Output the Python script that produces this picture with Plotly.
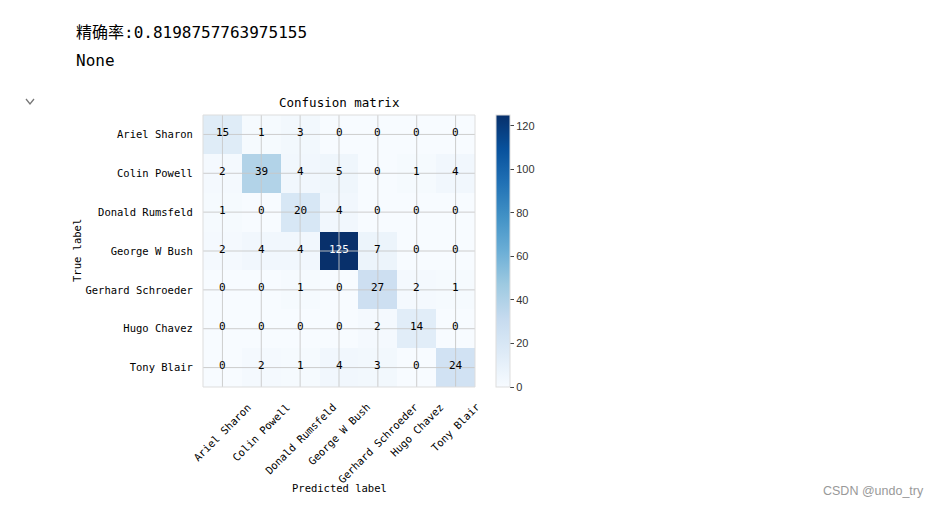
import plotly.graph_objects as go
import plotly.express as px

classes = ["Ariel Sharon", "Colin Powell", "Donald Rumsfeld", "George W Bush",
           "Gerhard Schroeder", "Hugo Chavez", "Tony Blair"]
cm = [
    [15, 1, 3, 0, 0, 0, 0],
    [2, 39, 4, 5, 0, 1, 4],
    [1, 0, 20, 4, 0, 0, 0],
    [2, 4, 4, 125, 7, 0, 0],
    [0, 0, 1, 0, 27, 2, 1],
    [0, 0, 0, 0, 2, 14, 0],
    [0, 2, 1, 4, 3, 0, 24],
]
colorbar_ticks = [0, 20, 40, 60, 80, 100, 120]
accuracy_text = "精确率:0.8198757763975155"

W, H = 941, 507
L, R, T, B = 203, 475, 115, 387
pw, ph = R - L, B - T

def px2x(p):
    return (p - L) / pw

def px2y(p):
    return (B - p) / ph

MONO = "DejaVu Sans Mono, Noto Sans CJK SC"
n = len(classes)
zmax = max(max(r) for r in cm)

fig = go.Figure(go.Heatmap(
    z=cm, x=list(range(n)), y=list(range(n)),
    colorscale=px.colors.sequential.Blues, zmin=0, zmax=zmax,
    colorbar=dict(x=px2x(496), xanchor="left", xpad=0, ypad=0, thickness=14,
                  len=1, lenmode="fraction", y=0.5, yanchor="middle",
                  outlinecolor="#dddddd", outlinewidth=1,
                  tickvals=colorbar_ticks, ticks="outside", ticklen=4, tickcolor="#444",
                  tickfont=dict(family="Liberation Sans, Arial", size=11, color="#333")),
    hoverinfo="skip",
))

shapes = []
for i in range(n):
    shapes.append(dict(type="line", xref="x", yref="paper", x0=i, x1=i, y0=0, y1=1,
                       line=dict(color="rgba(200,200,200,0.9)", width=1), layer="above"))
    shapes.append(dict(type="line", xref="paper", yref="y", x0=0, x1=1, y0=i, y1=i,
                       line=dict(color="rgba(200,200,200,0.9)", width=1), layer="above"))
shapes.append(dict(type="rect", xref="paper", yref="paper", x0=0, x1=1, y0=0, y1=1,
                   line=dict(color="#dddddd", width=1), layer="above"))
# notebook chevron
shapes.append(dict(type="path", xref="paper", yref="paper",
                   path=f"M {px2x(26)},{px2y(99)} L {px2x(30)},{px2y(104)} L {px2x(34)},{px2y(99)}",
                   line=dict(color="#777777", width=1.3)))

annotations = []
thresh = zmax / 2
for i in range(n):
    for j in range(n):
        v = cm[i][j]
        annotations.append(dict(x=j, y=i, xref="x", yref="y", text=str(v), showarrow=False,
                                yshift=2,
                                font=dict(family=MONO, size=11,
                                          color="white" if v > thresh else "black")))
# rotated x tick labels, centred on their tick (matplotlib-like)
for j, name in enumerate(classes):
    annotations.append(dict(x=j, y=px2y(398), xref="x", yref="paper", text=name,
                            textangle=-45, xanchor="center", yanchor="top", showarrow=False,
                            font=dict(family=MONO, size=10.5, color="black")))

annotations += [
    dict(x=0.5, y=px2y(103), xref="paper", yref="paper", text="Confusion matrix",
         yanchor="middle", showarrow=False, font=dict(family=MONO, size=12.5, color="black")),
    dict(x=0.5, y=px2y(488), xref="paper", yref="paper", text="Predicted label",
         yanchor="middle", showarrow=False, font=dict(family=MONO, size=10.5, color="black")),
    dict(x=px2x(77), y=0.5, xref="paper", yref="paper", text="True label", textangle=-90,
         xanchor="center", yanchor="middle", showarrow=False,
         font=dict(family=MONO, size=10.5, color="black")),
    dict(x=px2x(74), y=px2y(32), xref="paper", yref="paper", text=accuracy_text,
         xanchor="left", yanchor="middle", showarrow=False,
         font=dict(family=MONO, size=16, color="black")),
    dict(x=px2x(74), y=px2y(60), xref="paper", yref="paper", text="None",
         xanchor="left", yanchor="middle", showarrow=False,
         font=dict(family=MONO, size=16, color="black")),
    dict(x=px2x(926), y=px2y(491), xref="paper", yref="paper", text="CSDN @undo_try",
         xanchor="right", yanchor="middle", showarrow=False,
         font=dict(family="Liberation Sans, Arial", size=12.5, color="#999999")),
]

fig.update_layout(
    width=W, height=H,
    margin=dict(l=L, r=W - R, t=T, b=H - B, autoexpand=False),
    paper_bgcolor="white", plot_bgcolor="white",
    shapes=shapes, annotations=annotations, showlegend=False,
    xaxis=dict(tickvals=list(range(n)), showticklabels=False,
               range=[-0.5, n - 0.5], showgrid=False, zeroline=False, ticks=""),
    yaxis=dict(tickvals=list(range(n)), ticktext=classes, autorange=False,
               range=[n - 0.5, -0.5], showgrid=False, zeroline=False,
               ticks="outside", ticklen=7, tickcolor="rgba(0,0,0,0)",
               tickfont=dict(family=MONO, size=10.5, color="black")),
)

fig.write_html("out.html")
